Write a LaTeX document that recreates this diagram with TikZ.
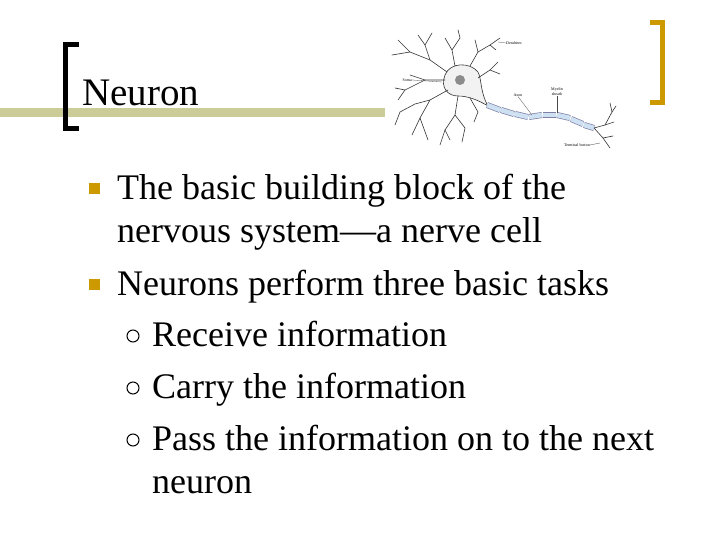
\documentclass[tikz,border=0pt]{standalone}
\usepackage{fontspec}
\setmainfont{Liberation Serif}
\begin{document}
\begin{tikzpicture}[x=1pt,y=-1pt,
  body/.style={anchor=base west,inner sep=0pt,font=\fontsize{36}{40}\selectfont},
  tiny/.style={inner sep=0pt,font=\fontsize{4}{5}\selectfont},
  dend/.style={draw=black!80,line width=0.6pt,line cap=round,line join=round},
  gsq/.style={fill=gold,draw=none,minimum size=11pt,inner sep=0pt},
  circ/.style={draw=black,line width=1pt,circle,minimum size=12pt,inner sep=0pt}]
\definecolor{gold}{RGB}{204,153,0}
\definecolor{olive}{RGB}{204,204,153}
\definecolor{myelin}{RGB}{205,225,242}
\useasboundingbox (0,0) rectangle (720,540);
% title bar
\fill[olive] (0,108) rectangle (385,117);
\fill[black] (63,42) rectangle (68,131);
\fill[black] (63,42) rectangle (79,47);
\fill[black] (63,126) rectangle (79,131);
\fill[gold] (660,20) rectangle (665,105);
\fill[gold] (650,20) rectangle (665,25);
\fill[gold] (650,100) rectangle (665,105);
\node[anchor=base west,inner sep=0pt,font=\fontsize{39}{42}\selectfont] (title) at (82,106) {Neuron};
% neuron picture
\begin{scope}
\draw[dend,fill=black!5] (445,75) .. controls (450,62) and (470,62) .. (478,72) .. controls (482,80) and (480,92) .. (488,106) .. controls (478,100) and (468,96) .. (458,96) .. controls (448,96) and (440,88) .. (445,75) -- cycle;
\node[circle,fill=black!45,minimum size=10pt,inner sep=0pt] (nuc) at (460,80) {};
% dendrites
\draw[dend] (447,72) -- (430,60) -- (410,52) -- (398,40); \draw[dend] (410,52) -- (392,55);
\draw[dend] (430,60) -- (425,45) -- (418,35); \draw[dend] (425,45) -- (432,33);
\draw[dend] (455,66) -- (452,50) -- (445,38); \draw[dend] (452,50) -- (460,38) -- (458,30);
\draw[dend] (470,66) -- (478,52) -- (490,45) -- (500,38); \draw[dend] (478,52) -- (475,40);
\draw[dend] (490,45) -- (496,50);
\draw[dend] (478,78) -- (490,70) -- (498,62); \draw[dend] (490,70) -- (500,74);
\draw[dend] (445,80) -- (425,80) -- (405,90) -- (395,88); \draw[dend] (425,80) -- (410,75);
\draw[dend] (405,90) -- (398,100);
\draw[dend] (448,90) -- (430,100) -- (420,118) -- (412,135); \draw[dend] (420,118) -- (428,140);
\draw[dend] (430,100) -- (415,104) -- (400,112); \draw[dend] (400,112) -- (395,125);
\draw[dend] (458,96) -- (455,115) -- (445,130) -- (440,145); \draw[dend] (455,115) -- (465,128) -- (462,142);
\draw[dend] (445,130) -- (450,140);
\draw[dend] (470,98) -- (478,112) -- (474,122);
% axon
\foreach \a/\b in {{(487,105)}/{(500,110)},{(501,110)}/{(514,114)},{(515,114)}/{(528,117)},{(529,117)}/{(542,115)},{(543,115)}/{(556,115)},{(557,115)}/{(570,118)},{(571,119)}/{(583,124)},{(584,125)}/{(594,128)}}
  {\draw[draw=blue!30!black!50,line width=6pt] \a -- \b;
   \draw[draw=myelin,line width=4.6pt] \a -- \b;}
\draw[dend] (594,128) -- (605,125) -- (612,112); \draw[dend] (605,125) -- (614,122);
\draw[dend] (594,128) -- (603,138) -- (610,148); \draw[dend] (603,138) -- (613,136);
\draw[dend] (612,112) -- (610,103); \draw[dend] (612,112) -- (616,106);
% labels
\node[tiny,anchor=west] (ld) at (506,43) {Dendrites};
\draw[black!70,line width=0.3pt] (ld.west) -- (498,42);
\node[tiny,anchor=east] (ls) at (412,80) {Soma};
\draw[black!70,line width=0.3pt] (ls.east) -- (442,82);
\node[tiny] (la) at (518,95) {Axon};
\draw[black!70,line width=0.3pt] (la.south) -- (532,115);
\node[tiny,align=center] (lm) at (557,92) {Myelin\\sheath};
\draw[black!70,line width=0.3pt] (lm.south) -- (557,113);
\node[tiny,anchor=east] (lt) at (590,145) {Terminal button};
\draw[black!70,line width=0.3pt] (lt.east) -- (600,143);
\end{scope}
% bullets
\node[gsq] (b1) at (94,189) {};
\node[gsq] (b2) at (94,284) {};
\node[body] (t1) at (117,200) {The basic building block of the};
\node[body] (t2) at (117,243) {nervous system---a nerve cell};
\node[body] (t3) at (117,295) {Neurons perform three basic tasks};
\node[circ] (c1) at (133,336) {};
\node[circ] (c2) at (133,388) {};
\node[circ] (c3) at (133,440) {};
\node[body] (t4) at (152,346) {Receive information};
\node[body] (t5) at (152,398) {Carry the information};
\node[body] (t6) at (152,450) {Pass the information on to the next};
\node[body] (t7) at (152,493) {neuron};
\end{tikzpicture}
\end{document}
